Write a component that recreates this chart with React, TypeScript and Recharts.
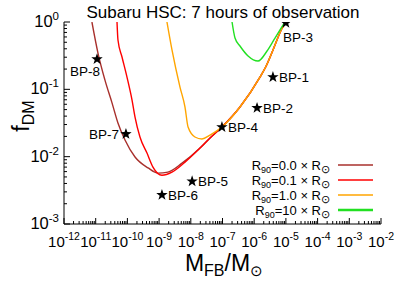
import { ComposedChart, Line, Scatter, XAxis, YAxis } from 'recharts';

// decade exponents shown on the axes
const massExponents = [-12, -11, -10, -9, -8, -7, -6, -5, -4, -3, -2];
const fracExponents = [-3, -2, -1, 0];

// legend entries (R90 in units of R_sun)
const radiusLabels = ['0.0', '0.1', '1.0', '10'];
const radiusColors = ['#a8302c', '#ff0000', '#ffa500', '#22e022'];

// shared high-mass branch of the three smaller-radius curves
const rightBranch = [
  { m: 1.95e-8, f: 0.0134 },
  { m: 4.04e-8, f: 0.0189 },
  { m: 9.6e-8, f: 0.0275 },
  { m: 3.56e-7, f: 0.0546 },
  { m: 1.52e-6, f: 0.152 },
  { m: 2.3e-6, f: 0.215 },
  { m: 3.92e-6, f: 0.384 },
  { m: 7.5e-6, f: 0.8 },
  { m: 1.0e-5, f: 1.0 },
];

const r00Left = [
  { m: 7.6e-12, f: 1.0 },
  { m: 1.18e-11, f: 0.346 },
  { m: 1.96e-11, f: 0.137 },
  { m: 3.27e-11, f: 0.063 },
  { m: 5.0e-11, f: 0.032 },
  { m: 8.4e-11, f: 0.0177 },
  { m: 1.74e-10, f: 0.0099 },
  { m: 4.5e-10, f: 0.0068 },
  { m: 9.2e-10, f: 0.0057 },
  { m: 1.9e-9, f: 0.0059 },
  { m: 5.3e-9, f: 0.008 },
];

const r01Left = [
  { m: 4.7e-11, f: 1.0 },
  { m: 5.04e-11, f: 0.54 },
  { m: 6.76e-11, f: 0.302 },
  { m: 9.7e-11, f: 0.152 },
  { m: 1.4e-10, f: 0.0693 },
  { m: 1.74e-10, f: 0.0388 },
  { m: 2.49e-10, f: 0.0196 },
  { m: 4.15e-10, f: 0.0113 },
  { m: 6.4e-10, f: 0.007 },
  { m: 1.23e-9, f: 0.0053 },
  { m: 2.55e-9, f: 0.0059 },
  { m: 6.56e-9, f: 0.0083 },
];

const r1Left = [
  { m: 1.77e-9, f: 1.0 },
  { m: 2.55e-9, f: 0.384 },
  { m: 4.56e-9, f: 0.108 },
  { m: 6.56e-9, f: 0.0546 },
  { m: 8.2e-9, f: 0.0275 },
  { m: 1.35e-8, f: 0.0196 },
  { m: 2.25e-8, f: 0.0183 },
  { m: 4.04e-8, f: 0.0209 },
];

const r10Curve = [
  { m: 2.0e-7, f: 1.0 },
  { m: 2.48e-7, f: 0.578 },
  { m: 3.56e-7, f: 0.44 },
  { m: 6.4e-7, f: 0.313 },
  { m: 1.32e-6, f: 0.263 },
  { m: 2.54e-6, f: 0.371 },
  { m: 4.53e-6, f: 0.578 },
  { m: 8.1e-6, f: 0.9 },
  { m: 9.3e-6, f: 1.0 },
];

const benchmarks = [
  { name: 'BP-1', m: 3.9e-6, f: 0.152 },
  { name: 'BP-2', m: 1.23e-6, f: 0.053 },
  { name: 'BP-3', m: 1.0e-5, f: 0.97 },
  { name: 'BP-4', m: 9.6e-8, f: 0.0275 },
  { name: 'BP-5', m: 1.1e-8, f: 0.0043 },
  { name: 'BP-6', m: 1.23e-9, f: 0.0027 },
  { name: 'BP-7', m: 9e-11, f: 0.0217 },
  { name: 'BP-8', m: 1.1e-11, f: 0.28 },
];

// where each star's label sits relative to the star
const labelPlacement: Record<string, { dx: number; dy: number; anchor: string }> = {
  'BP-1': { dx: 6, dy: 5, anchor: 'start' },
  'BP-2': { dx: 6, dy: 5, anchor: 'start' },
  'BP-3': { dx: -3, dy: 19, anchor: 'start' },
  'BP-4': { dx: 6, dy: 5, anchor: 'start' },
  'BP-5': { dx: 6, dy: 5, anchor: 'start' },
  'BP-6': { dx: 6, dy: 5, anchor: 'start' },
  'BP-7': { dx: -7, dy: 5, anchor: 'end' },
  'BP-8': { dx: 3, dy: 17, anchor: 'end' },
};

const series = [
  [...r00Left, ...rightBranch],
  [...r01Left, ...rightBranch],
  [...r1Left, ...rightBranch.filter((p) => p.m >= 9.6e-8)],
  r10Curve,
];

const logTicks = (exps: number[]) => {
  const out: number[] = [];
  exps.forEach((e, i) => {
    out.push(10 ** e);
    if (i < exps.length - 1) for (let k = 2; k <= 9; k++) out.push(k * 10 ** e);
  });
  return out;
};

const xTicks = logTicks(massExponents);
const yTicks = logTicks(fracExponents);
const FONT = '"Liberation Sans", Arial, sans-serif';

const isMajor = (v: number) => Math.abs(Math.log10(v) - Math.round(Math.log10(v))) < 1e-6;

const AxisTick = (props: any) => {
  const { x, y, payload, side } = props;
  const v = payload.value;
  const major = isMajor(v);
  const len = major ? 6 : 3;
  const exp = Math.round(Math.log10(v));
  if (side === 'bottom' || side === 'top') {
    const dir = side === 'bottom' ? -1 : 1;
    return (
      <g>
        <line x1={x} x2={x} y1={y} y2={y + dir * len} stroke="#000" strokeWidth={1} />
        {side === 'bottom' && major && (
          <text x={x} y={y + 23} textAnchor="middle" fontSize={15} fill="#000" fontFamily={FONT}>
            10<tspan dy={-7} fontSize={10.5}>{exp}</tspan>
          </text>
        )}
      </g>
    );
  }
  const dir = side === 'left' ? 1 : -1;
  return (
    <g>
      <line x1={x} x2={x + dir * len} y1={y} y2={y} stroke="#000" strokeWidth={1} />
      {side === 'left' && major && (
        <text x={x - 5} y={y + 5} textAnchor="end" fontSize={16.5} fill="#000" fontFamily={FONT}>
          10<tspan dy={-7} fontSize={11.5}>{exp}</tspan>
        </text>
      )}
    </g>
  );
};

const StarShape = (props: any) => {
  const { cx, cy, payload } = props;
  const pts: string[] = [];
  for (let i = 0; i < 10; i++) {
    const r = i % 2 === 0 ? 6 : 2.4;
    const a = -Math.PI / 2 + (i * Math.PI) / 5;
    pts.push(`${cx + r * Math.cos(a)},${cy + r * Math.sin(a)}`);
  }
  const lp = labelPlacement[payload.name];
  return (
    <g>
      <polygon points={pts.join(' ')} fill="#000" />
      <text x={cx + lp.dx} y={cy + lp.dy} textAnchor={lp.anchor} fontSize={13.5} fill="#000" fontFamily={FONT}>
        {payload.name}
      </text>
    </g>
  );
};

export default function App() {
  return (
    <div style={{ position: 'absolute', left: 0, top: 0, width: 402, height: 281, background: '#fff', fontFamily: FONT }}>
      <ComposedChart width={402} height={281} margin={{ top: 22, right: 21, bottom: 27, left: 4 }}>
        <XAxis
          xAxisId="b"
          dataKey="m"
          type="number"
          scale="log"
          domain={[1e-12, 1e-2]}
          allowDataOverflow
          ticks={xTicks}
          interval={0}
          height={30}
          tickSize={0}
          tickMargin={0}
          axisLine={{ stroke: '#000' }}
          tickLine={false}
          tick={(p: any) => <AxisTick {...p} side="bottom" />}
        />
        <XAxis
          xAxisId="t"
          orientation="top"
          dataKey="m"
          type="number"
          scale="log"
          domain={[1e-12, 1e-2]}
          allowDataOverflow
          ticks={xTicks}
          interval={0}
          height={0}
          tickSize={0}
          tickMargin={0}
          axisLine={{ stroke: '#000' }}
          tickLine={false}
          tick={(p: any) => <AxisTick {...p} side="top" />}
        />
        <YAxis
          yAxisId="l"
          type="number"
          scale="log"
          domain={[1e-3, 1]}
          allowDataOverflow
          ticks={yTicks}
          interval={0}
          width={60}
          tickSize={0}
          tickMargin={0}
          axisLine={{ stroke: '#000' }}
          tickLine={false}
          tick={(p: any) => <AxisTick {...p} side="left" />}
        />
        <YAxis
          yAxisId="r"
          orientation="right"
          type="number"
          scale="log"
          domain={[1e-3, 1]}
          allowDataOverflow
          ticks={yTicks}
          interval={0}
          width={0}
          tickSize={0}
          tickMargin={0}
          axisLine={{ stroke: '#000' }}
          tickLine={false}
          tick={(p: any) => <AxisTick {...p} side="right" />}
        />
        {series.map((d, i) => (
          <Line
            key={radiusLabels[i]}
            xAxisId="b"
            yAxisId="l"
            data={d}
            dataKey="f"
            type="monotone"
            stroke={radiusColors[i]}
            strokeWidth={1.4}
            dot={false}
            isAnimationActive={false}
          />
        ))}
        <Scatter
          xAxisId="b"
          yAxisId="l"
          data={benchmarks}
          dataKey="f"
          shape={StarShape}
          isAnimationActive={false}
        />
      </ComposedChart>
      <svg width={402} height={281} style={{ position: 'absolute', left: 0, top: 0, pointerEvents: 'none' }} fontFamily={FONT}>
        <text x={223} y={18} textAnchor="middle" fontSize={17} fill="#000">
          Subaru HSC: 7 hours of observation
        </text>
        <text transform="translate(29,116) rotate(-90)" textAnchor="middle" fontSize={23} fill="#000">
          f<tspan dy={5} fontSize={16}>DM</tspan>
        </text>
        <text x={224} y={271} textAnchor="middle" fontSize={23} fill="#000">
          M<tspan dy={5} fontSize={16}>FB</tspan>
          <tspan dy={-5}>/M</tspan>
          <tspan dy={5} fontSize={15}>⊙</tspan>
        </text>
        {radiusLabels.map((r, i) => (
          <g key={r}>
            <text x={330} y={169.5 + i * 15} textAnchor="end" fontSize={13} fill="#000">
              R<tspan dy={3} fontSize={9}>90</tspan>
              <tspan dy={-3}>={r} × R</tspan>
              <tspan dy={3} fontSize={11}>⊙</tspan>
            </text>
            <line x1={338} x2={373} y1={165 + i * 15} y2={165 + i * 15} stroke={radiusColors[i]} strokeWidth={i === 3 ? 2.5 : 1.5} />
          </g>
        ))}
      </svg>
    </div>
  );
}
